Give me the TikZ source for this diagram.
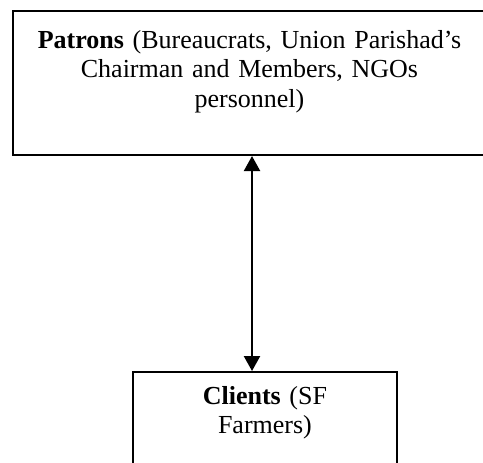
\documentclass[tikz,border=0pt]{standalone}
\usepackage{fontspec}
\setmainfont{Liberation Serif}
\usetikzlibrary{arrows.meta}

\begin{document}
\begin{tikzpicture}[x=0.4615pt, y=-0.4615pt,
            block/.style={rectangle, draw, line width=0.9pt, inner sep=0pt, align=center, font=\fontsize{12}{13.8}\selectfont},
            arrow/.style={line width=0.9pt, {Triangle[length=6.9pt,width=7.4pt]}-{Triangle[length=6.9pt,width=7.4pt]}}
        ]
            \useasboundingbox (0,0) rectangle (483,462);

            % Patrons block (top)
            \node[block, anchor=north west, text width=218.3pt, text height=17.1pt, text depth=49.4pt] (patrons) at (12,10) {
                \textbf{Patrons} (Bureaucrats, Union Parishad's\\
                Chairman and Members, NGOs\\
                personnel)
            };

            % Clients block (bottom, runs off the page)
            \node[block, anchor=north west, text width=121.8pt, text height=14.8pt, text depth=44.8pt] (clients) at (132,371) {
                \textbf{Clients} (SF\\
                Farmers)
            };

            % Two-way link
            \coordinate (link) at (252,0);
            \draw[arrow] (patrons.south -| link) -- (clients.north -| link);
        \end{tikzpicture}
\end{document}
